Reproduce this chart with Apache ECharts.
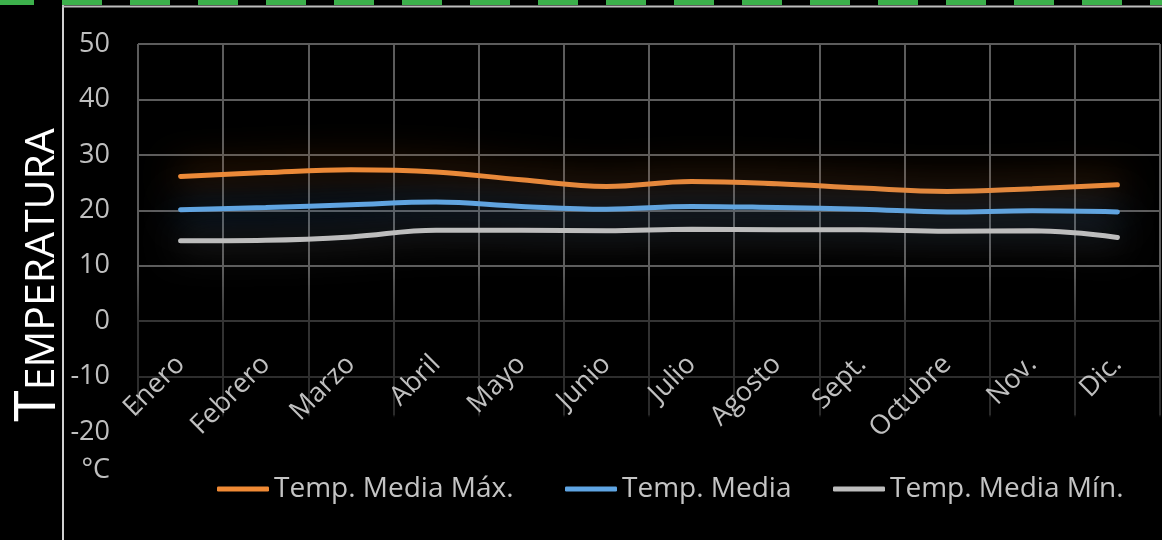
<!DOCTYPE html>
<html>
<head>
<meta charset="utf-8">
<script src="https://cdn.jsdelivr.net/npm/echarts@6/dist/echarts.min.js"></script>
<style>
html,body{margin:0;padding:0;background:#000;}
#c{width:1162px;height:540px;}
</style>
</head>
<body>
<div id="c"></div>
<script>
const months = ['Enero','Febrero','Marzo','Abril','Mayo','Junio','Julio','Agosto','Sept.','Octubre','Nov.','Dic.'];
const maxTemp = [26.1, 26.8, 27.3, 26.9, 25.5, 24.3, 25.2, 24.8, 24.0, 23.4, 23.9, 24.6];
const meanTemp = [20.1, 20.5, 21.0, 21.5, 20.7, 20.2, 20.7, 20.5, 20.2, 19.7, 19.9, 19.7];
const minTemp = [14.5, 14.6, 15.2, 16.4, 16.4, 16.3, 16.6, 16.5, 16.5, 16.2, 16.3, 15.1];
const seriesNames = ['Temp. Media Máx.', 'Temp. Media', 'Temp. Media Mín.'];
const yMin = -20, yMax = 50, yStep = 10;

const FONT = '"Open Sans", "Noto Sans", sans-serif';
const gridGrad = {
  type: 'linear', x: 0, y: 44, x2: 0, y2: 432, global: true,
  colorStops: [
    {offset: 0, color: '#5c5c5c'},
    {offset: 0.58, color: '#5c5c5c'},
    {offset: 0.72, color: '#333333'},
    {offset: 0.955, color: '#2a2a2a'},
    {offset: 0.965, color: 'rgba(0,0,0,0)'},
    {offset: 1, color: 'rgba(0,0,0,0)'}
  ]
};

const chart = echarts.init(document.getElementById('c'), null, {renderer: 'canvas'});
function lineSeries(name, data, color, glow, blur) {
  return {
    name: name, type: 'line', data: data, smooth: 0.4,
    symbol: 'none', showSymbol: false,
    lineStyle: {color: color, width: 5, shadowBlur: blur, shadowColor: glow, cap: 'round'},
    itemStyle: {color: color},
    z: 3
  };
}
function legendAt(name, left) {
  return {
    left: left, top: 475, padding: 0,
    itemWidth: 52, itemHeight: 5, icon: 'roundRect',
    textStyle: {color: '#c4c4c4', fontSize: 28, fontFamily: FONT},
    data: [name]
  };
}
chart.setOption({
  backgroundColor: '#000',
  animation: false,
  grid: {left: 138, right: 2, top: 44, bottom: 108, containLabel: false, outerBoundsMode: 'none'},
  legend: [
    legendAt(seriesNames[0], 217),
    legendAt(seriesNames[1], 565),
    legendAt(seriesNames[2], 833)
  ],
  xAxis: {
    type: 'category', data: months, boundaryGap: true,
    position: 'bottom', offset: -112,
    axisLine: {show: false, onZero: false},
    axisTick: {show: false},
    axisLabel: {color: '#bfbfbf', fontSize: 27, fontFamily: FONT, rotate: 45, margin: 40, interval: 0},
    splitLine: {show: true, lineStyle: {color: gridGrad, width: 2}}
  },
  yAxis: {
    type: 'value', min: yMin, max: yMax, interval: yStep,
    axisLine: {show: false}, axisTick: {show: false},
    axisLabel: {color: '#bfbfbf', fontSize: 27, fontFamily: FONT, margin: 28},
    splitLine: {show: true, lineStyle: {color: gridGrad, width: 2}}
  },
  graphic: [
    {type: 'line', silent: true, shape: {x1: -6, y1: 2.5, x2: 1162, y2: 2.5},
     style: {stroke: '#3cb04b', lineWidth: 5, lineDash: [40, 28]}},
    {type: 'line', silent: true, shape: {x1: 63, y1: 5, x2: 63, y2: 540},
     style: {stroke: '#d0d0d0', lineWidth: 2}},
    {type: 'line', silent: true, shape: {x1: 62, y1: 6.5, x2: 1162, y2: 6.5},
     style: {stroke: '#bdbdbd', lineWidth: 2}},
    {type: 'text', silent: true, x: 38, y: 275, rotation: Math.PI / 2,
     style: {
       text: '{a|T}{b|EMPERATURA}',
       align: 'center', verticalAlign: 'middle',
       rich: {
         a: {fontSize: 57, fontFamily: FONT, fill: '#ffffff', verticalAlign: 'bottom', lineHeight: 58},
         b: {fontSize: 41, fontFamily: FONT, fill: '#ffffff', verticalAlign: 'bottom', lineHeight: 58, padding: [0, 0, 4, 0]}
       }
     }},
    {type: 'text', silent: true, x: 110, y: 470,
     style: {text: '°C', fill: '#bfbfbf', fontSize: 27, fontFamily: FONT, align: 'right', verticalAlign: 'middle'}}
  ],
  series: [
    lineSeries(seriesNames[0], maxTemp, '#f08a35', 'rgba(190,85,0,1)', 36),
    lineSeries(seriesNames[1], meanTemp, '#5fa5e3', 'rgba(20,100,180,1)', 36),
    lineSeries(seriesNames[2], minTemp, '#bdbdbd', 'rgba(120,120,120,0.9)', 36)
  ]
});
</script>
</body>
</html>
